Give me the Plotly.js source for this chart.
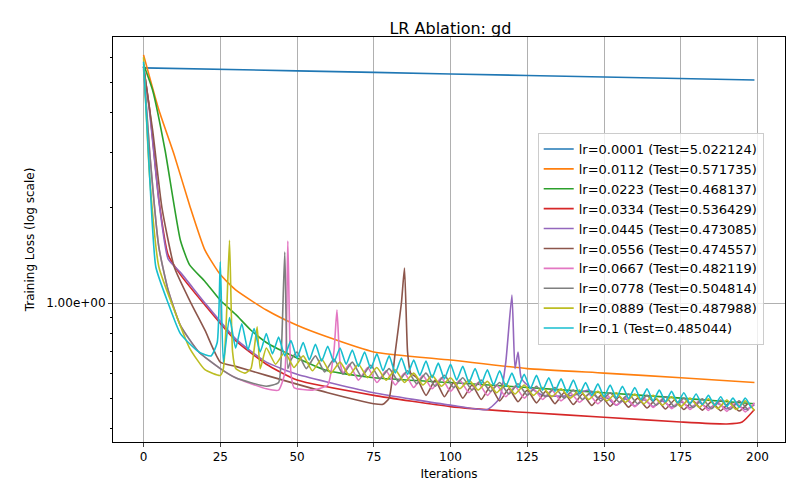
<!DOCTYPE html>
<html><head><meta charset="utf-8">
<script src="https://cdn.plot.ly/plotly-3.0.1.min.js"></script>
<style>body{margin:0}#c{width:800px;height:500px}</style></head>
<body><div id="c"></div>
<script>
const labels = ["lr=0.0001 (Test=5.022124)","lr=0.0112 (Test=0.571735)","lr=0.0223 (Test=0.468137)","lr=0.0334 (Test=0.536429)","lr=0.0445 (Test=0.473085)","lr=0.0556 (Test=0.474557)","lr=0.0667 (Test=0.482119)","lr=0.0778 (Test=0.504814)","lr=0.0889 (Test=0.487988)","lr=0.1 (Test=0.485044)"];
const colors = ["#1f77b4","#ff7f0e","#2ca02c","#d62728","#9467bd","#8c564b","#e377c2","#7f7f7f","#bcbd22","#17becf"];

// smooth / early parts: iteration and loss
const blueX = [0,50,100,150,199];
const blueY = [5.55,5.43,5.31,5.19,5.08];
const orangeX = [0,5,10,15,20,25,30,40,50,60,75,100,125,150,175,199];
const orangeY = [6.1,4.08,2.94,2.04,1.47,1.23,1.10,0.95,0.85,0.78,0.70,0.66,0.62,0.60,0.58,0.56];
const greenX = [0,3,7,12,15,20,25,30,35,40,50,60,75,100,125,150,175,199];
const greenY = [5.7,4.7,3.05,1.58,1.32,1.17,1.02,0.92,0.82,0.75,0.67,0.61,0.58,0.56,0.54,0.52,0.50,0.48];
const redX = [0,2,5,8,12,20,30,40,50,75,100,125,150,175,190,195,199];
const redY = [5.6,4.08,2.12,1.42,1.23,0.985,0.76,0.64,0.57,0.51,0.47,0.45,0.435,0.42,0.414,0.42,0.46];
const purpleX = [0,2,5,8,12,20,30,40,50,75,100,112,116,118,120,121,122,123,125,130,140,145,148];
const purpleY = [5.6,4.0,2.1,1.38,1.25,1.0,0.77,0.65,0.595,0.52,0.475,0.46,0.50,0.65,1.06,0.62,0.70,0.58,0.55,0.51,0.51,0.53,0.50];
const brownX = [0,3,6,10,15,20,25,30,40,60,75,78,80,82,84,85,86,87];
const brownY = [5.6,3.5,2.0,1.3,1.02,0.82,0.65,0.63,0.59,0.52,0.48,0.478,0.50,0.70,1.0,1.29,0.70,0.60];
const pinkX = [0,2,5,8,12,18,25,30,40,44,46,47,48,49,55,60,62,63,64,65];
const pinkY = [5.5,3.0,1.5,1.1,0.85,0.70,0.62,0.58,0.535,0.53,0.60,1.57,0.60,0.54,0.53,0.55,0.70,0.95,0.65,0.60];
const greyX = [0,2,5,8,12,18,25,30,40,44,45,46,47,48];
const greyY = [5.6,3.0,1.5,1.1,0.85,0.70,0.62,0.58,0.545,0.56,0.75,1.45,0.62,0.66];
const oliveX = [0,2,5,10,15,20,25,26,27,28,29,30,33,35,37,38];
const oliveY = [6.0,2.5,1.3,0.95,0.72,0.615,0.59,0.62,0.90,1.58,0.70,0.62,0.60,0.62,0.84,0.62];
const cyanX = [0,2,4,8,12,18,22,24,25,26];
const cyanY = [5.8,2.5,1.3,1.0,0.80,0.70,0.68,0.75,1.35,0.65];

// oscillating parts: start iteration, step, high and low values (alternating)
const cyanOsc = {start:28, step:2,
 hi:[0.90,0.86,0.83,0.80,0.78,0.76,0.75,0.74,0.73,0.72,0.71,0.70,0.69,0.68,0.67,0.66,0.655,0.645,0.64,0.63,0.62,0.615,0.61,0.60,0.595,0.59,0.58,0.575,0.57,0.56,0.555,0.55,0.545,0.54,0.535,0.53,0.525,0.52,0.515,0.51,0.505,0.50,0.50],
 lo:[0.72,0.71,0.70,0.69,0.68,0.67,0.66,0.655,0.65,0.64,0.63,0.62,0.61,0.60,0.595,0.59,0.58,0.575,0.57,0.56,0.555,0.55,0.545,0.54,0.535,0.53,0.525,0.52,0.515,0.51,0.505,0.50,0.498,0.495,0.49,0.487,0.483,0.48,0.477,0.474,0.471,0.468,0.465]};
const oliveOsc = {start:40, step:3,
 hi:[0.72,0.70,0.68,0.665,0.65,0.64,0.625,0.615,0.60,0.59,0.58,0.57,0.565,0.555,0.55,0.54,0.535,0.53,0.525,0.52,0.515,0.51,0.505,0.50,0.497,0.493,0.49],
 lo:[0.64,0.625,0.61,0.60,0.59,0.58,0.57,0.56,0.55,0.545,0.535,0.53,0.52,0.515,0.51,0.505,0.50,0.495,0.49,0.485,0.48,0.475,0.47,0.467,0.463,0.46,0.457]};
const greyOsc = {start:50, step:3,
 hi:[0.70,0.68,0.665,0.65,0.635,0.62,0.61,0.60,0.59,0.58,0.57,0.56,0.555,0.545,0.54,0.53,0.525,0.52,0.515,0.51,0.505,0.50,0.497,0.493,0.49],
 lo:[0.62,0.605,0.595,0.585,0.575,0.565,0.555,0.545,0.54,0.53,0.525,0.515,0.51,0.505,0.50,0.495,0.49,0.485,0.48,0.475,0.47,0.467,0.463,0.46,0.457]};
const pinkOsc = {start:67, step:3,
 hi:[0.64,0.625,0.61,0.60,0.59,0.58,0.57,0.56,0.55,0.545,0.535,0.53,0.52,0.515,0.51,0.505,0.50,0.497,0.493,0.49,0.487,0.485,0.483],
 lo:[0.57,0.56,0.55,0.54,0.535,0.525,0.52,0.51,0.505,0.50,0.495,0.49,0.485,0.48,0.475,0.47,0.467,0.463,0.46,0.457,0.454,0.452]};
const brownOsc = {start:89, step:3,
 hi:[0.58,0.57,0.56,0.55,0.545,0.535,0.53,0.525,0.52,0.515,0.51,0.505,0.50,0.497,0.493,0.49,0.487,0.485,0.483],
 lo:[0.51,0.505,0.50,0.495,0.49,0.487,0.483,0.48,0.477,0.474,0.471,0.468,0.465,0.462,0.46,0.458,0.456,0.455]};
const purpleOsc = {start:151, step:3,
 hi:[0.50,0.497,0.494,0.49,0.487,0.484,0.481,0.478,0.476],
 lo:[0.475,0.472,0.47,0.468,0.466,0.464,0.462,0.46]};

function build(hx, hy, osc){
  const x = hx.slice(), y = hy.slice();
  if (osc){
    const n = osc.hi.length + osc.lo.length;
    for (let i=0;i<n;i++){
      const v = (i%2===0) ? osc.hi[i>>1] : osc.lo[i>>1];
      if (v===undefined) break;
      x.push(osc.start + i*osc.step); y.push(v);
    }
  }
  return [x,y];
}
const series = [
  build(blueX,blueY), build(orangeX,orangeY), build(greenX,greenY), build(redX,redY),
  build(purpleX,purpleY,purpleOsc), build(brownX,brownY,brownOsc), build(pinkX,pinkY,pinkOsc),
  build(greyX,greyY,greyOsc), build(oliveX,oliveY,oliveOsc), build(cyanX,cyanY,cyanOsc)
];
const traces = series.map((s,i)=>({x:s[0], y:s[1], type:'scatter', mode:'lines', name:labels[i],
  line:{color:colors[i], width:1.6, shape:'spline', smoothing:0.5}}));

const font = {family:'DejaVu Sans', size:12, color:'#000'};
Plotly.newPlot('c', traces, {
  width:800, height:500, font:font,
  margin:{l:113, r:15, t:37, b:58},
  plot_bgcolor:'#fff', paper_bgcolor:'#fff',
  title:{text:'LR Ablation: gd', x:0.563, xanchor:'center', y:0.955, font:{family:'DejaVu Sans', size:16}},
  xaxis:{range:[-9.95,208.95], tickvals:[0,25,50,75,100,125,150,175,200], showgrid:true, gridcolor:'#b0b0b0', gridwidth:1,
    zeroline:false, showline:true, linecolor:'#000', mirror:true, ticks:'outside', ticklen:4,
    title:{text:'Iterations', font:font, standoff:6}},
  yaxis:{type:'log', range:[-0.440,0.842], tickvals:[1], ticktext:['1.00e+00'], showgrid:true, gridcolor:'#b0b0b0',
    zeroline:false, showline:true, linecolor:'#000', mirror:true, ticks:'outside', ticklen:4,
    minor:{tickvals:[0.4,0.5,0.6,0.7,0.8,0.9,2,3,4,5,6], ticks:'outside', ticklen:2.5, showgrid:false, tickcolor:'#000'},
    title:{text:'Training Loss (log scale)', font:font, standoff:8}},
  legend:{x:0.632, y:0.763, xanchor:'left', yanchor:'top', bgcolor:'rgba(255,255,255,0.8)', bordercolor:'#cccccc', borderwidth:1,
    font:{family:'DejaVu Sans', size:13}, tracegroupgap:0, itemwidth:30},
  showlegend:true
}, {displayModeBar:false, staticPlot:true});
</script></body></html>
